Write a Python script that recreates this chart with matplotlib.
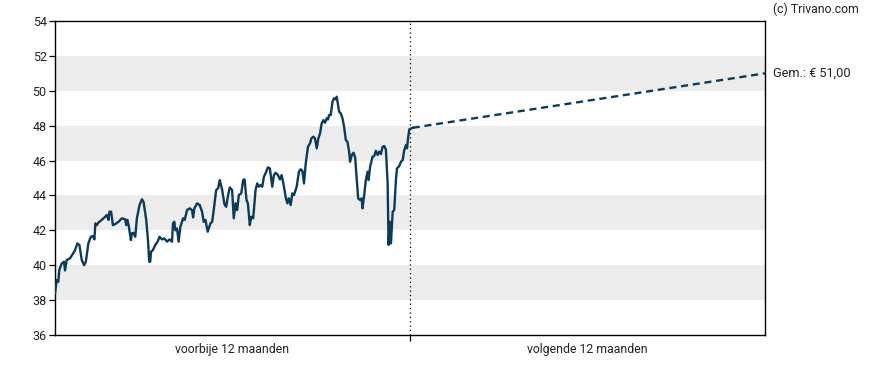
import matplotlib
matplotlib.use("Agg")
import matplotlib.pyplot as plt
import numpy as np

plt.rcParams['font.family'] = ['Roboto', 'DejaVu Sans']

# --- data -------------------------------------------------------------
days = [0, 1.8, 3.4, 4.4, 6.9, 9.3, 10.3, 12.1, 15.5, 18.9, 20.6, 23.0, 25.1, 27.5,
        29.9, 31.7, 34.3, 36.8, 38.9, 40.5, 41.5, 43.0, 44.6, 48.1, 51.6, 53.3, 55.0,
        56.0, 57.7, 59.5, 61.9, 65.3, 68.8, 72.2, 73.2, 74.5, 76.0, 78.0, 79.1, 80.7,
        82.5, 84.2, 86.9, 89.4, 91.0, 93.8, 95.6, 96.9, 97.9, 98.7, 100.7, 103.1,
        105.5, 107.5, 110.0, 112.4, 115.2, 117.8, 120.3, 121.3, 122.7, 123.7, 125.5,
        127.1, 128.9, 131.7, 133.3, 135.8, 138.5, 140.9, 142.0, 143.3, 146.1, 148.8,
        151.2, 152.9, 154.7, 157.0, 159.8, 161.6, 163.2, 165.7, 167.7, 169.4, 171.9,
        174.2, 176.0, 178.0, 179.7, 182.1, 183.8, 185.6, 187.3, 189.0, 191.5, 193.5,
        194.9, 196.9, 198.3, 200.3, 201.8, 203.8, 206.2, 207.9, 209.6, 211.4, 213.1,
        214.8, 216.5, 218.9, 220.9, 223.4, 225.1, 226.8, 229.2, 231.3, 233.0, 234.8,
        237.1, 238.9, 240.5, 242.3, 244.0, 245.7, 248.5, 250.8, 252.6, 254.3, 256.0,
        257.8, 260.1, 262.2, 263.6, 265.7, 267.3, 269.1, 270.8, 272.5, 274.2, 276.0,
        277.6, 279.4, 280.7, 281.8, 283.5, 285.3, 286.9, 288.7, 289.7, 291.1, 292.1,
        293.8, 295.6, 297.2, 299.0, 300.7, 302.4, 303.4, 305.2, 306.9, 308.6, 310.3,
        311.7, 313.7, 315.2, 316.2, 317.9, 319.6, 321.4, 322.4, 324.0, 326.5, 328.2,
        329.9, 331.7, 333.3, 335.1, 336.8, 338.5, 340.2, 342.0, 343.0, 344.1, 345.4,
        347.2, 348.8, 350.5, 351.6, 354.0, 355.7, 357.5, 359.1, 360.9, 361.9, 363.2,
        364.3, 367.8]
prices = [38.39, 39.15, 39.05, 39.72, 40.1, 40.2, 39.7, 40.3, 40.4, 40.7, 40.87, 41.25,
          41.16, 40.3, 40.0, 40.2, 41.25, 41.63, 41.67, 41.48, 42.4, 42.3, 42.44, 42.6,
          42.78, 42.88, 42.6, 43.07, 43.07, 42.3, 42.36, 42.49, 42.69, 42.63, 42.3,
          42.6, 42.2, 41.44, 41.83, 41.86, 41.63, 42.69, 43.45, 43.78, 43.64, 42.6,
          41.44, 40.2, 40.2, 40.77, 40.87, 41.16, 41.35, 41.63, 41.48, 41.54, 41.35,
          41.48, 41.35, 42.4, 42.49, 42.0, 42.1, 41.35, 42.2, 42.69, 42.6, 43.16,
          43.26, 43.16, 42.74, 43.26, 43.55, 43.45, 43.07, 42.49, 42.6, 41.92, 42.4,
          42.49, 43.16, 44.31, 44.41, 44.88, 44.31, 43.5, 43.35, 44.02, 44.46, 44.31,
          42.69, 43.55, 43.16, 44.02, 44.12, 44.88, 44.92, 43.74, 43.55, 42.3, 42.78,
          42.69, 44.31, 44.69, 44.5, 44.6, 44.5, 45.07, 45.27, 45.61, 45.55, 44.5,
          45.17, 45.3, 45.17, 44.92, 45.17, 44.69, 43.93, 43.55, 43.83, 43.45, 44.12,
          44.02, 44.5, 45.36, 45.5, 45.42, 44.69, 45.84, 46.79, 46.99, 47.27, 47.37,
          47.27, 46.7, 47.27, 47.56, 48.13, 48.32, 48.17, 48.42, 48.36, 48.61, 48.61,
          49.37, 49.57, 49.51, 49.66, 49.18, 48.8, 48.71, 48.42, 47.94, 47.18, 47.08,
          46.51, 45.93, 46.32, 46.45, 46.18, 44.88, 43.83, 43.74, 43.83, 43.26, 44.02,
          44.88, 45.36, 44.88, 45.65, 46.22, 46.26, 46.56, 46.32, 46.51, 46.37, 46.79,
          46.83, 46.64, 44.69, 41.16, 42.49, 41.25, 43.07, 43.16, 44.88, 45.55, 45.69,
          45.93, 46.03, 46.6, 46.89, 46.7, 47.37, 47.79, 47.88]
target_day = 730
target_price = 51.00
today_day = 365
y_ticks = [36, 38, 40, 42, 44, 46, 48, 50, 52, 54]
period_labels = ["voorbije 12 maanden", "volgende 12 maanden"]
target_label = "Gem.: € 51,00"
credit = "(c) Trivano.com"

# --- figure -----------------------------------------------------------
fig = plt.figure(figsize=(8.88, 3.70), dpi=100)
ax = fig.add_axes([55 / 888, 1 - 335 / 370, (765 - 55) / 888, (335 - 21) / 370])

line_color = '#0c3a59'
text_color = '#222222'

for lo in y_ticks[1:-1:2]:
    ax.axhspan(lo, lo + 2, color='#ececec', lw=0, zorder=0)

ax.plot(days, prices, color=line_color, lw=1.7, zorder=3, solid_joinstyle='round')
ax.plot([days[-1], target_day], [prices[-1], target_price], color=line_color,
        lw=1.7, ls=(0, (3, 2)), zorder=3)
ax.axvline(today_day, color='black', lw=0.9, ls=(0, (1, 2.5)), zorder=2)

ax.set_xlim(0, target_day)
ax.set_ylim(y_ticks[0], y_ticks[-1])
ax.set_yticks(y_ticks)
ax.set_yticklabels([str(t) for t in y_ticks])
ax.set_xticks([today_day])
ax.set_xticklabels([''])
ax.set_xticks([today_day / 2, (today_day + target_day) / 2], minor=True)
ax.set_xticklabels(period_labels, minor=True)
ax.tick_params(axis='x', which='minor', length=0, pad=6, labelsize=8.8, labelcolor=text_color)
ax.tick_params(axis='x', which='major', length=4, width=0.9, direction='out')
ax.tick_params(axis='y', length=4, width=0.9, pad=2, labelsize=9, labelcolor=text_color)

for s in ax.spines.values():
    s.set_linewidth(1.0)
    s.set_color('black')

ax.annotate(target_label, xy=(1, target_price), xycoords=('axes fraction', 'data'),
            xytext=(5.5, 0), textcoords='offset points', ha='left', va='center',
            fontsize=9.2, color=text_color)
fig.text(773 / 888, 1 - 9 / 370, credit, ha='left', va='center', fontsize=8.8,
         color=text_color)

fig.savefig('out.png', dpi=100)
